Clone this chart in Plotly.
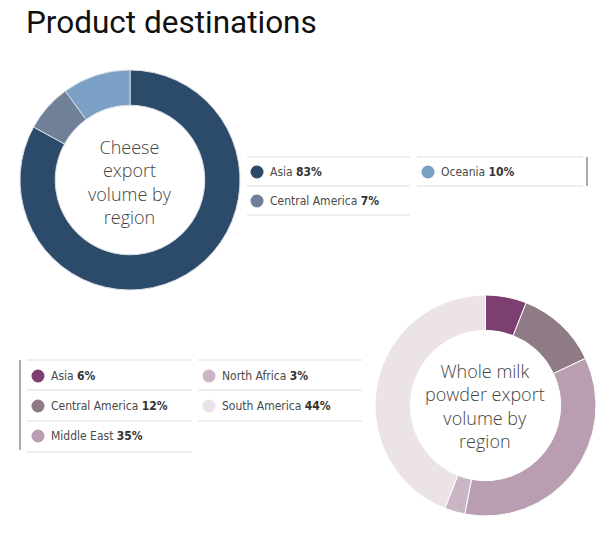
import plotly.graph_objects as go

# ---- data ----
cheese_regions = ["Asia", "Central America", "Oceania"]
cheese_values = [83, 7, 10]
cheese_colors = ["#2c4a6a", "#6f8098", "#7aa0c6"]

milk_regions = ["Asia", "Central America", "Middle East", "North Africa", "South America"]
milk_values = [6, 12, 35, 3, 44]
milk_colors = ["#7c3f6f", "#8f7b86", "#b89eb0", "#cab5c4", "#ece3e9"]

title_text = "Product destinations"
cheese_label = "Cheese<br>export<br>volume by<br>region"
milk_label = "Whole milk<br>powder export<br>volume by<br>region"

W, H = 610, 560

fig = go.Figure()

def dom(x0, x1, y0, y1):
    return dict(x=[x0 / W, x1 / W], y=[1 - y1 / H, 1 - y0 / H])

fig.add_trace(go.Pie(
    labels=cheese_regions, values=cheese_values, hole=0.68, sort=False,
    direction="clockwise", rotation=0,
    marker=dict(colors=cheese_colors, line=dict(color="#d8dde4", width=1)),
    textinfo="none", hoverinfo="label+percent", showlegend=False,
    domain=dom(20, 240, 70, 290),
))
fig.add_trace(go.Pie(
    labels=milk_regions, values=milk_values, hole=0.68, sort=False,
    direction="clockwise", rotation=0,
    marker=dict(colors=milk_colors, line=dict(color="#ffffff", width=1)),
    textinfo="none", hoverinfo="label+percent", showlegend=False,
    domain=dom(375, 596, 295, 516),
))

# hidden pixel-space axes for the legend decorations
fig.add_trace(go.Scatter(x=[0, W], y=[0, H], mode="markers",
                         marker=dict(opacity=0), hoverinfo="skip", showlegend=False))

shapes = []
annotations = []

LEG_FONT = dict(family="DejaVu Sans Condensed, Roboto, sans-serif", size=12, color="#4a4a4a")

def hline(x0, x1, y):
    shapes.append(dict(type="line", xref="x", yref="y", x0=x0, x1=x1, y0=y, y1=y,
                       line=dict(color="#dddddd", width=1)))

def vline(x, y0, y1):
    shapes.append(dict(type="line", xref="x", yref="y", x0=x, x1=x, y0=y0, y1=y1,
                       line=dict(color="#555555", width=1)))

def item(cx, cy, color, name, val):
    r = 6.5
    shapes.append(dict(type="circle", xref="x", yref="y", x0=cx - r, x1=cx + r,
                       y0=cy - r, y1=cy + r, fillcolor=color, line=dict(width=0)))
    annotations.append(dict(xref="x", yref="y", x=cx + 11, y=cy, xanchor="left", yanchor="middle",
                            text=f"{name} <b><span style='color:#333333'>{val}%</span></b>",
                            showarrow=False, font=LEG_FONT))

# cheese legend
for y in [157, 186]:
    hline(247, 410, y)
    hline(417, 583, y)
hline(247, 410, 215)
vline(587, 157, 186)
c_pos = [(257, 172), (257, 201), (428, 172)]
for (cx, cy), n, v, c in zip(c_pos, cheese_regions, cheese_values, cheese_colors):
    item(cx, cy, c, n, v)

# milk legend
for y in [360, 390, 421]:
    hline(27, 192, y)
    hline(198, 362, y)
hline(27, 192, 452)
vline(20, 360, 450)
m_pos = [(38, 376), (38, 406), (38, 436), (209, 376), (209, 406)]
for (cx, cy), n, v, c in zip(m_pos, milk_regions, milk_values, milk_colors):
    item(cx, cy, c, n, v)

CENTER_FONT = dict(family="Open Sans, Lato, sans-serif", size=18, color="#444444", weight=300)
annotations.append(dict(xref="x", yref="y", x=130, y=182, text=cheese_label, showarrow=False,
                        font=CENTER_FONT, align="center"))
annotations.append(dict(xref="x", yref="y", x=485, y=406, text=milk_label, showarrow=False,
                        font=CENTER_FONT, align="center"))

annotations.append(dict(xref="x", yref="y", x=24, y=22, xanchor="left", yanchor="middle",
                        text=title_text, showarrow=False,
                        font=dict(family="Roboto, sans-serif", size=31.5, color="#111111")))

fig.update_layout(
    width=W, height=H, margin=dict(l=0, r=0, t=0, b=0),
    paper_bgcolor="white", plot_bgcolor="rgba(0,0,0,0)",
    xaxis=dict(range=[0, W], visible=False, fixedrange=True),
    yaxis=dict(range=[H, 0], visible=False, fixedrange=True),
    shapes=shapes, annotations=annotations,
)

fig.write_html("out.html")
